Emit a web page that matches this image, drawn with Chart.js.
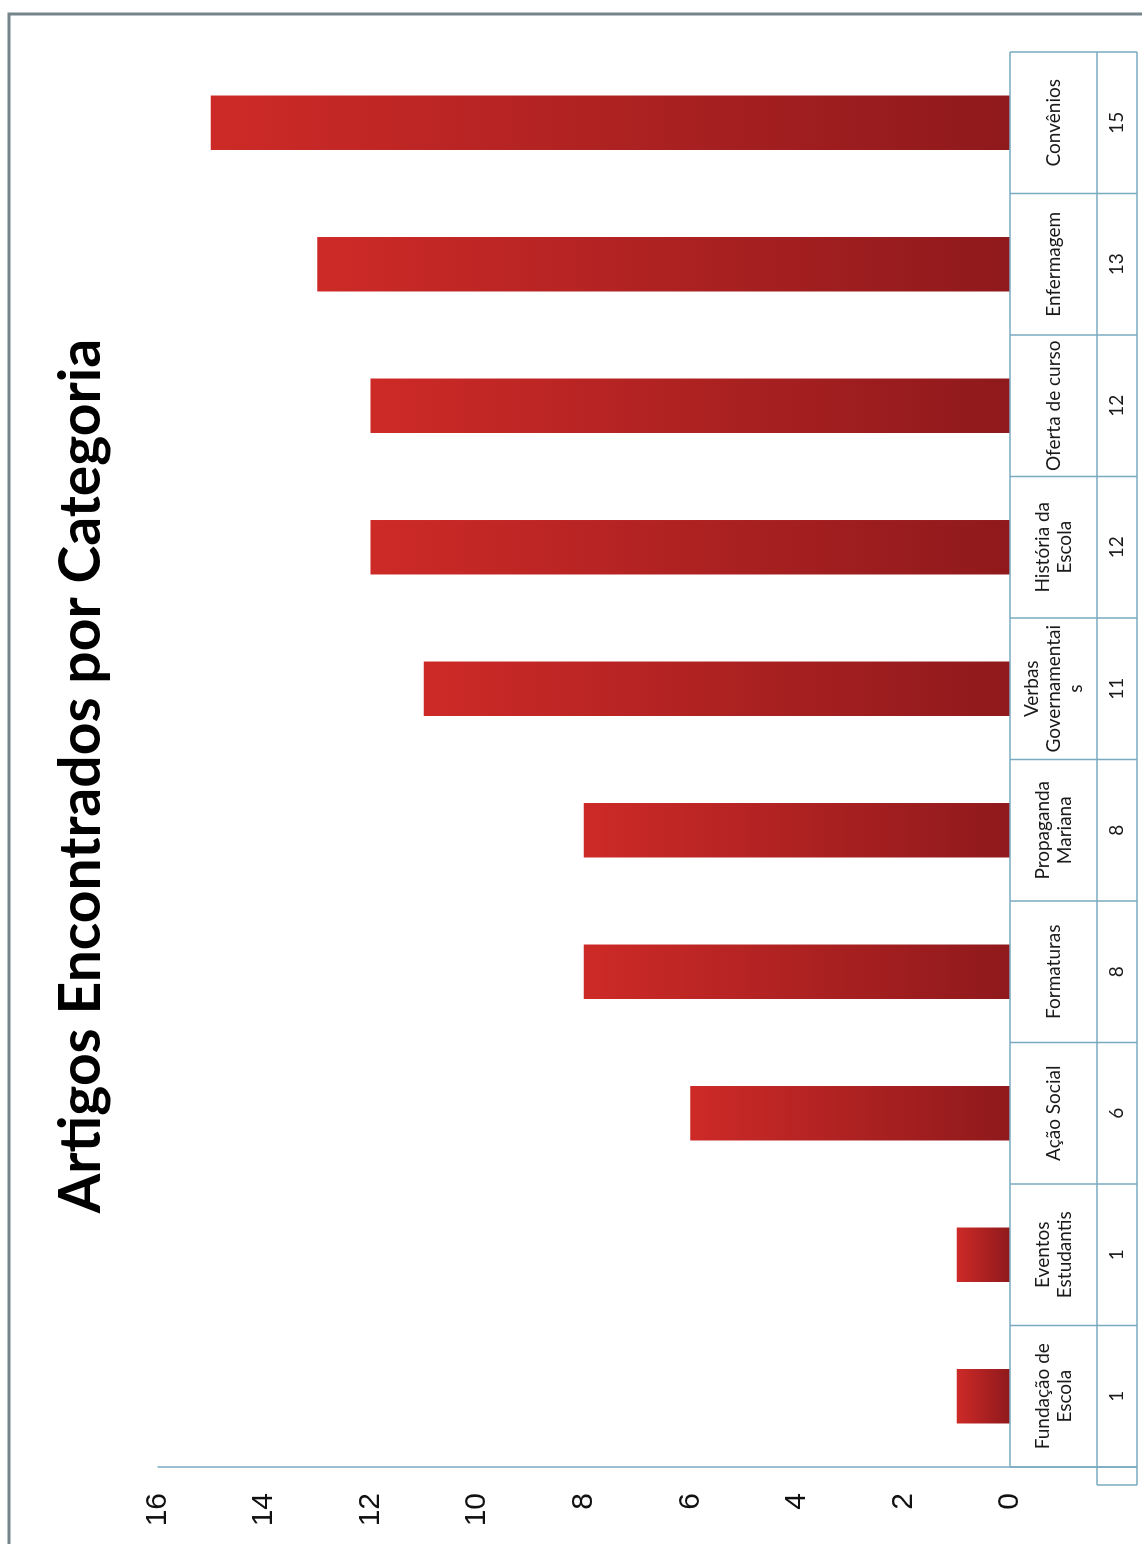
<!DOCTYPE html>
<html>
<head>
<meta charset="utf-8">
<script src="https://cdn.jsdelivr.net/npm/chart.js@4/dist/chart.umd.min.js"></script>
<style>
  html, body { margin:0; padding:0; background:#fff; width:1142px; height:1544px; overflow:hidden; }
  #wrap { position:absolute; left:0; top:0; width:1544px; height:1142px;
          transform-origin:0 0; transform:translate(0,1544px) rotate(-90deg); }
  canvas { display:block; }
</style>
</head>
<body>
<div id="wrap"><canvas id="c" width="1544" height="1142"></canvas></div>
<script>
// ---- data ----
const TITLE = "Artigos Encontrados por Categoria";
const categories = [
  ["Fundação de", "Escola"],
  ["Eventos", "Estudantis"],
  "Ação Social",
  "Formaturas",
  ["Propaganda", "Mariana"],
  ["Verbas", "Governamentai", "s"],
  ["História da", "Escola"],
  "Oferta de curso",
  "Enfermagem",
  "Convênios"
];
const values = [1, 1, 6, 8, 8, 11, 12, 12, 13, 15];
const yMin = 0, yMax = 16, yStep = 2;

// ---- styles ----
const LINE = '#7aaac0';
const TIP = '#cd2a27', BASE = '#8f191c';

function barGradient(ctx) {
  const chart = ctx.chart;
  const y = chart.scales && chart.scales.y;
  if (!y || ctx.raw === undefined) return '#b02024';
  const top = y.getPixelForValue(ctx.raw), base = y.getPixelForValue(0);
  if (!isFinite(top) || !isFinite(base) || top === base) return '#b02024';
  const g = chart.ctx.createLinearGradient(0, top, 0, base);
  g.addColorStop(0, TIP);
  g.addColorStop(1, BASE);
  return g;
}

const tablePlugin = {
  id: 'dataTable',
  beforeDraw(chart) {
    const c = chart.ctx;
    c.save();
    c.fillStyle = '#fff';
    c.fillRect(0, 0, chart.width, chart.height);
    c.restore();
  },
  afterDraw(chart) {
    const c = chart.ctx;
    const xs = chart.scales.x, ys = chart.scales.y;
    const area = chart.chartArea;
    const n = categories.length;
    const band = (xs.right - xs.left) / n;
    const r1 = area.bottom, r2 = area.bottom + 87, r3 = area.bottom + 127;
    c.save();
    c.strokeStyle = LINE;
    c.lineWidth = 1.5;
    // value axis line extended through table
    c.beginPath();
    c.moveTo(area.left, ys.getPixelForValue(yMax));
    c.lineTo(area.left, r3);
    c.stroke();
    // table lines
    c.beginPath();
    c.moveTo(area.left, r1); c.lineTo(area.right, r1);
    c.moveTo(area.left - 18, r2); c.lineTo(area.right, r2);
    c.moveTo(area.left - 18, r3); c.lineTo(area.right, r3);
    c.moveTo(area.left - 18, r2); c.lineTo(area.left - 18, r3);
    for (let i = 0; i <= n; i++) {
      const x = xs.left + i * band;
      c.moveTo(x, r1); c.lineTo(x, r3);
    }
    c.stroke();
    // text
    c.fillStyle = '#1a1a1a';
    c.textAlign = 'center';
    c.textBaseline = 'middle';
    c.font = '19px Lato';
    for (let i = 0; i < n; i++) {
      const cx = xs.getPixelForValue(i);
      const lines = Array.isArray(categories[i]) ? categories[i] : [categories[i]];
      const lh = 22;
      const cy = (r1 + r2) / 2 - (lines.length - 1) * lh / 2;
      lines.forEach((t, k) => c.fillText(t, cx, cy + k * lh));
    }
    c.font = '19px Lato';
    for (let i = 0; i < n; i++) {
      c.fillText(String(values[i]), xs.getPixelForValue(i), (r2 + r3) / 2);
    }
    // outer chart border
    c.strokeStyle = '#76858c';
    c.lineWidth = 3;
    c.beginPath();
    c.moveTo(0, 9); c.lineTo(1530, 9); c.lineTo(1530, chart.height);
    c.stroke();
    c.restore();
  }
};

new Chart(document.getElementById('c'), {
  type: 'bar',
  data: {
    labels: categories,
    datasets: [{
      data: values,
      backgroundColor: barGradient,
      borderWidth: 0,
      barPercentage: 0.385,
      categoryPercentage: 1
    }]
  },
  options: {
    responsive: false,
    animation: false,
    devicePixelRatio: 1,
    layout: { padding: { top: 10, right: 8, bottom: 0, left: 0 } },
    plugins: {
      legend: { display: false },
      tooltip: { enabled: false },
      title: {
        display: true,
        text: TITLE,
        color: '#000',
        font: { family: 'Lato', size: 57, weight: 'bold', lineHeight: 1.2 },
        padding: { top: 37, bottom: 42 }
      }
    },
    scales: {
      x: {
        ticks: { display: false },
        grid: { display: false },
        border: { display: false },
        afterFit(s) { s.height = 132; }
      },
      y: {
        min: yMin, max: yMax,
        ticks: { stepSize: yStep, padding: 26, color: '#111',
                 font: { family: 'Liberation Sans', size: 30 } },
        grid: { display: false, drawTicks: false },
        border: { display: false },
        afterFit(s) { s.width = 77; }
      },
      spacer: {
        type: 'linear',
        position: 'right',
        display: true,
        ticks: { display: false },
        grid: { display: false, drawTicks: false },
        border: { display: false },
        afterFit(s) { s.width = 44; }
      }
    }
  },
  plugins: [tablePlugin]
});
</script>
</body>
</html>
